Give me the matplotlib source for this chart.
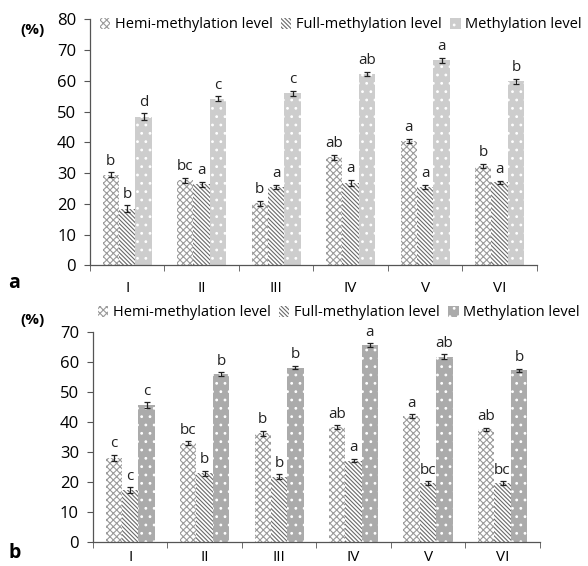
import matplotlib
matplotlib.use("Agg")
import matplotlib.pyplot as plt
import numpy as np

plt.rcParams['font.family'] = ['Open Sans', 'DejaVu Sans']
plt.rcParams['hatch.linewidth'] = 0.8

categories = ["I", "II", "III", "IV", "V", "VI"]
series_names = ["Hemi-methylation level", "Full-methylation level", "Methylation level"]

# Panel a
a_hemi = [29.5, 27.7, 20.2, 35.2, 40.5, 32.4]
a_full = [18.5, 26.4, 25.6, 26.9, 25.6, 27.1]
a_meth = [48.3, 54.1, 55.9, 62.3, 66.6, 59.8]
a_hemi_err = [0.8, 0.8, 0.8, 0.8, 0.7, 0.6]
a_full_err = [1.0, 0.8, 0.6, 1.0, 0.6, 0.5]
a_meth_err = [1.1, 0.8, 0.9, 0.6, 0.9, 0.9]
a_hemi_lbl = ["b", "bc", "b", "ab", "a", "b"]
a_full_lbl = ["b", "a", "a", "a", "a", "a"]
a_meth_lbl = ["d", "c", "c", "ab", "a", "b"]

# Panel b
b_hemi = [27.9, 32.8, 36.1, 38.1, 41.8, 37.4]
b_full = [17.2, 22.8, 21.7, 27.0, 19.5, 19.5]
b_meth = [45.4, 55.8, 58.0, 65.5, 61.6, 57.1]
b_hemi_err = [1.0, 0.7, 0.8, 0.7, 0.7, 0.5]
b_full_err = [0.9, 0.9, 0.8, 0.6, 0.6, 0.6]
b_meth_err = [1.0, 0.6, 0.6, 0.6, 0.8, 0.6]
b_hemi_lbl = ["c", "bc", "b", "ab", "a", "ab"]
b_full_lbl = ["c", "b", "b", "a", "bc", "bc"]
b_meth_lbl = ["c", "b", "b", "a", "ab", "b"]

fig = plt.figure(figsize=(5.88, 5.66), dpi=100)
ax_a = fig.add_axes([0.153, 0.531, 0.76, 0.435])
ax_b = fig.add_axes([0.158, 0.043, 0.76, 0.371])

W = 0.22
styles = [
    dict(facecolor="white", edgecolor="#9a9a9a", hatch="xxxxx"),
    dict(facecolor="white", edgecolor="#6a6a6a", hatch="\\" * 8),
]

def draw(ax, hemi, full, meth, errs, lbls, ymax, meth_color, xpad):
    x = np.arange(len(categories))
    st = [styles[0], styles[1], dict(facecolor=meth_color, edgecolor="white", hatch="..")]
    handles = []
    for i, (vals, err, lb) in enumerate(zip([hemi, full, meth], errs, lbls)):
        pos = x + (i - 1) * W
        bars = ax.bar(pos, vals, W, linewidth=0, label=series_names[i], **st[i])
        handles.append(bars)
        ax.errorbar(pos, vals, yerr=err, fmt='none', ecolor="#222222",
                    elinewidth=0.9, capsize=2.5, capthick=0.9)
        for p, v, e, t in zip(pos, vals, err, lb):
            ax.text(p, v + e + 1.2, t, ha='center', va='bottom', fontsize=11, color="#222222")
    ax.set_xlim(-0.5, len(categories) - 0.5)
    ax.set_ylim(0, ymax)
    ax.set_yticks(np.arange(0, ymax + 1, 10))
    ax.set_xticks(x)
    ax.set_xticklabels(categories, fontsize=11)
    ax.set_xticks(np.arange(-0.5, len(categories), 1.0), minor=True)
    ax.tick_params(axis='x', which='major', length=0, pad=xpad)
    ax.tick_params(axis='x', which='minor', length=4, direction='out', color="#555555")
    ax.tick_params(axis='y', length=4, direction='out', labelsize=12, color="#555555", pad=6)
    for s in ['top', 'right']:
        ax.spines[s].set_visible(False)
    for s in ['left', 'bottom']:
        ax.spines[s].set_color("#555555")
        ax.spines[s].set_linewidth(0.9)
    return handles

h_a = draw(ax_a, a_hemi, a_full, a_meth, [a_hemi_err, a_full_err, a_meth_err],
           [a_hemi_lbl, a_full_lbl, a_meth_lbl], 80, "#cdcdcd", 11)
h_b = draw(ax_b, b_hemi, b_full, b_meth, [b_hemi_err, b_full_err, b_meth_err],
           [b_hemi_lbl, b_full_lbl, b_meth_lbl], 70, "#ababab", 6)

for h, y, x0 in [(h_a, 1 - 25 / 566, 100 / 588), (h_b, 1 - 313 / 566, 98 / 588)]:
    fig.legend(handles=h, labels=series_names, loc='center left', bbox_to_anchor=(x0, y),
               ncol=3, frameon=False, fontsize=10.5, handlelength=0.7, handleheight=0.7,
               handletextpad=0.3, columnspacing=0.6, borderpad=0, borderaxespad=0)

fig.text(20 / 588, 1 - 30 / 566, "(%)", fontsize=11, fontweight='bold', ha='left', va='center')
fig.text(20 / 588, 1 - 320 / 566, "(%)", fontsize=11, fontweight='bold', ha='left', va='center')
fig.text(8 / 588, 1 - 283 / 566, "a", fontsize=14, fontweight='bold', ha='left', va='center')
fig.text(8 / 588, 1 - 553 / 566, "b", fontsize=14, fontweight='bold', ha='left', va='center')

fig.savefig("out.png", dpi=100)
